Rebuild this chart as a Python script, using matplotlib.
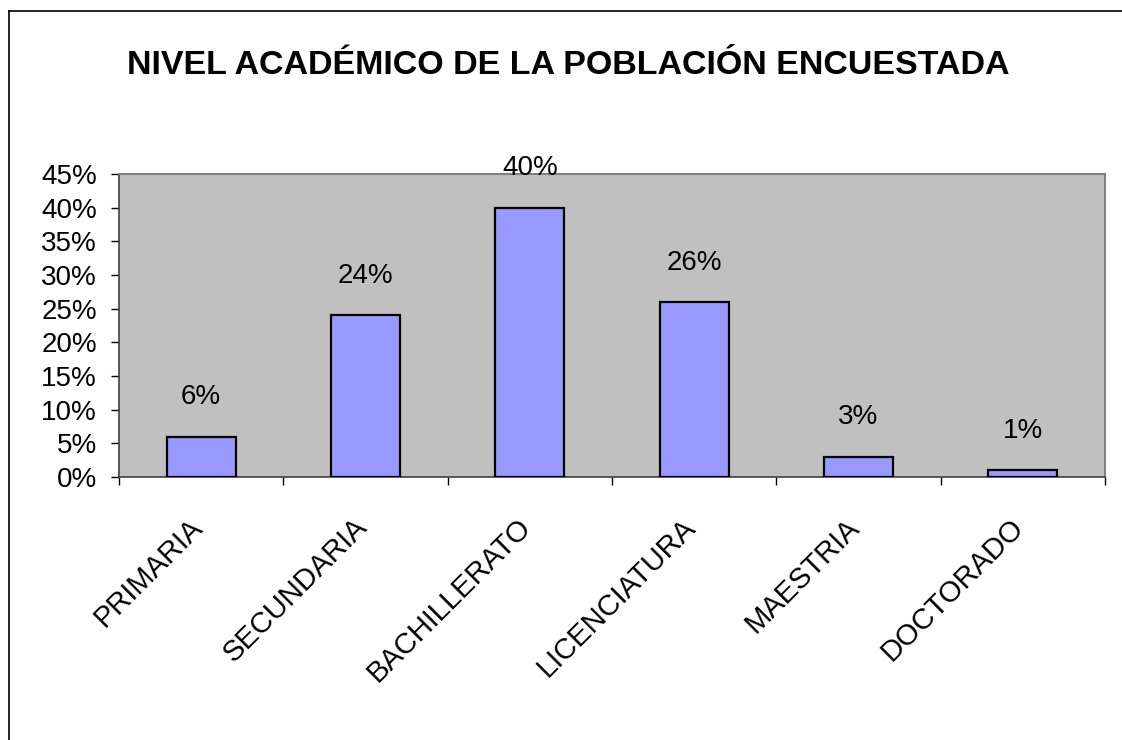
import matplotlib.pyplot as plt
from matplotlib.lines import Line2D
from matplotlib.ticker import PercentFormatter
from matplotlib.transforms import ScaledTranslation
import numpy as np

plt.rcParams['font.family'] = ['Liberation Sans', 'DejaVu Sans']

# datos
niveles = ['PRIMARIA', 'SECUNDARIA', 'BACHILLERATO', 'LICENCIATURA', 'MAESTRIA', 'DOCTORADO']
porcentajes = [0.06, 0.24, 0.40, 0.26, 0.03, 0.01]
etiquetas = ['6%', '24%', '40%', '26%', '3%', '1%']
titulo = 'NIVEL ACADÉMICO DE LA POBLACIÓN ENCUESTADA'

fig = plt.figure(figsize=(11.22, 7.40), dpi=100)
ax = fig.add_axes([119/1122, 1 - 477/740, (1105 - 119)/1122, (477 - 174)/740])
ax.set_facecolor('#C0C0C0')

x = np.arange(len(niveles))
barras = ax.bar(x, porcentajes, width=0.42, color='#9999FF', edgecolor='black', linewidth=1.6, zorder=3)

for b, et in zip(barras, etiquetas):
    ax.annotate(et, (b.get_x() + b.get_width()/2, b.get_height()),
                xytext=(0, 19), textcoords='offset points',
                ha='center', va='bottom', fontsize=20, zorder=4)

ax.set_xlim(-0.5, len(niveles) - 0.5)
ax.set_ylim(0, 0.45)
ax.set_yticks(np.arange(0, 0.451, 0.05))
ax.yaxis.set_major_formatter(PercentFormatter(1.0, decimals=0))
ax.tick_params(axis='y', labelsize=20, length=6, width=1, pad=10, direction='out')

# etiquetas en el centro, marcas en los limites de categoria
ax.set_xticks(x)
ax.set_xticklabels(niveles, rotation=45, ha='right', va='top', rotation_mode='anchor', fontsize=21)
ax.set_xticks(np.arange(-0.5, len(niveles), 1), minor=True)
ax.tick_params(axis='x', which='major', length=0, pad=26)
ax.tick_params(axis='x', which='minor', length=6, width=1, direction='out')
desplaza = ScaledTranslation(-0.13, 0, fig.dpi_scale_trans)
for lab in ax.get_xticklabels():
    lab.set_transform(lab.get_transform() + desplaza)

for lado in ['top', 'right']:
    ax.spines[lado].set_color('#808080')
    ax.spines[lado].set_linewidth(1.5)
for lado in ['left', 'bottom']:
    ax.spines[lado].set_color('#404040')
    ax.spines[lado].set_linewidth(1.2)

fig.text(568/1122, 1 - 74/740, titulo, ha='center', va='baseline', fontsize=24.5, fontweight='bold')

# marco exterior
fig.add_artist(Line2D([9/1122, 9/1122], [0, 1 - 11/740], color='black', linewidth=1.2))
fig.add_artist(Line2D([9/1122, 1], [1 - 11/740, 1 - 11/740], color='black', linewidth=1.2))

fig.savefig('out.png', dpi=100)
